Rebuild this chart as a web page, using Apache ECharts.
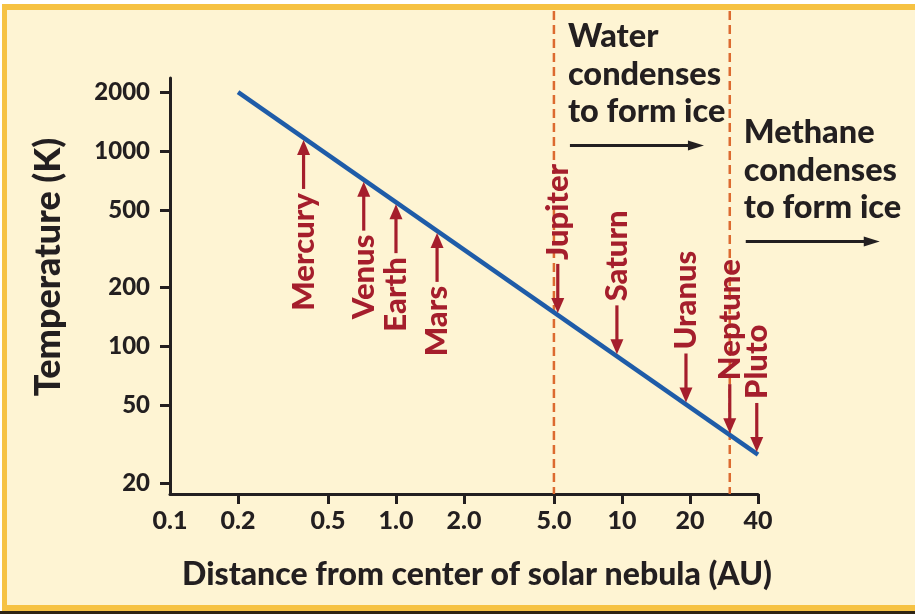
<!DOCTYPE html>
<html><head><meta charset="utf-8">
<script src="https://cdn.jsdelivr.net/npm/echarts@6/dist/echarts.min.js"></script>
<style>
html,body{margin:0;padding:0;background:#fff;}
#frame{position:absolute;left:2px;top:4px;width:913px;height:607px;box-sizing:border-box;background:#fef4d3;border-top:6px solid #f6c243;border-left:5px solid #f6c243;border-bottom:6px solid #f6c243;}
#shade{position:absolute;left:0;top:611px;width:915px;height:3px;background:#2e2414;}
#chart{position:absolute;left:0;top:0;width:915px;height:614px;}
</style></head><body>
<div id="frame"></div><div id="shade"></div><div id="chart"></div>
<script>
// ---- data ----
const xTickValues = [0.1, 0.2, 0.5, 1, 2, 5, 10, 20, 40];
const xTickLabels = ['0.1', '0.2', '0.5', '1.0', '2.0', '5.0', '10', '20', '40'];
const yTickValues = [20, 50, 100, 200, 500, 1000, 2000];
const yTickLabels = ['20', '50', '100', '200', '500', '1000', '2000'];
const lineAU = [0.2, 40];
const lineTemp = [2000, 28];
const planetNames = ['Mercury', 'Venus', 'Earth', 'Mars', 'Jupiter', 'Saturn', 'Uranus', 'Neptune', 'Pluto'];
const planetAU = [0.39, 0.72, 1.0, 1.52, 5.2, 9.5, 19.2, 30, 39.5];
const planetTemp = [1165, 713, 547, 390, 145, 89, 50.5, 35.2, 28.2];
const zoneAU = [5, 30];
const zoneText = ['Water\ncondenses\nto form ice', 'Methane\ncondenses\nto form ice'];

// ---- style ----
const FONT = 'Lato, "Open Sans", sans-serif';
const DARK = '#231f20';
const RED = '#a51e2c';
const BLUE = '#1f5ca8';
const DASH = '#dc6a30';

function pickLabel(v, vals, labels) {
  for (let i = 0; i < vals.length; i++) {
    if (Math.abs(Math.log10(v) - Math.log10(vals[i])) < 1e-6) return labels[i];
  }
  return '';
}

function renderPlanet(params, api) {
  const i = params.dataIndex;
  const au = api.value(0);
  const p = api.coord([au, api.value(1)]);
  const below = au < 3;
  const dir = below ? 1 : -1;
  const x = p[0];
  const tipY = p[1] + dir * 2;
  const tailY = p[1] + dir * 51;
  const headLen = 15, headW = 6.5;
  return {
    type: 'group',
    children: [
      { type: 'line', shape: { x1: x, y1: tailY, x2: x, y2: tipY + dir * headLen * 0.7 },
        style: { stroke: RED, lineWidth: 3.2 } },
      { type: 'polygon', shape: { points: [[x, tipY], [x - headW, tipY + dir * headLen], [x + headW, tipY + dir * headLen]] },
        style: { fill: RED } },
      { type: 'text', x: x, y: tailY + dir * 4, rotation: Math.PI / 2,
        style: { text: planetNames[i], font: '900 31px ' + FONT, fill: RED,
                 align: below ? 'right' : 'left', verticalAlign: 'middle' } }
    ]
  };
}

const zoneTextTop = [18, 114];
function renderZone(params, api) {
  const i = params.dataIndex;
  const cs = params.coordSys;
  const x = api.coord([api.value(0), 100])[0];
  const bottom = cs.y + cs.height;
  const tTop = zoneTextTop[i];
  const lh = 37.5;
  const ay = tTop + 3 * lh + 15;
  const ax1 = x + 16, ax2 = x + 150;
  return {
    type: 'group',
    children: [
      { type: 'line', shape: { x1: x, y1: 11, x2: x, y2: bottom },
        style: { stroke: DASH, lineWidth: 2.5, lineDash: [9, 5] } },
      { type: 'text', x: x + 14, y: tTop,
        style: { text: zoneText[i], font: '900 32.5px ' + FONT, fill: DARK, lineHeight: lh,
                 align: 'left', verticalAlign: 'top' } },
      { type: 'line', shape: { x1: ax1, y1: ay, x2: ax2 - 10, y2: ay },
        style: { stroke: DARK, lineWidth: 3 } },
      { type: 'polygon', shape: { points: [[ax2, ay], [ax2 - 16, ay - 5], [ax2 - 16, ay + 5]] },
        style: { fill: DARK } }
    ]
  };
}

const chart = echarts.init(document.getElementById('chart'));
chart.setOption({
  backgroundColor: 'transparent',
  animation: false,
  grid: { left: 170, right: 157, top: 78, bottom: 120, containLabel: false },
  xAxis: {
    type: 'log', min: 0.1, max: 40,
    name: 'Distance from center of solar nebula (AU)', nameLocation: 'middle', nameGap: 65,
    nameTextStyle: { fontFamily: FONT, fontWeight: 900, fontSize: 32, color: DARK, padding: [0, 0, 0, 26] },
    axisLine: { lineStyle: { color: DARK, width: 3 } },
    axisTick: { customValues: xTickValues.slice(1), length: 10, lineStyle: { color: DARK, width: 3 } },
    axisLabel: { customValues: xTickValues, margin: 14, fontFamily: FONT, fontWeight: 900, fontSize: 25, color: DARK,
                 formatter: v => pickLabel(v, xTickValues, xTickLabels) },
    splitLine: { show: false }, minorTick: { show: false }
  },
  yAxis: {
    type: 'log', min: 17.6, max: 2360,
    name: 'Temperature (K)', nameLocation: 'middle', nameGap: 104, nameRotate: 90,
    nameTextStyle: { fontFamily: FONT, fontWeight: 900, fontSize: 36, color: DARK, padding: [0, 0, 0, 38] },
    axisLine: { lineStyle: { color: DARK, width: 3 } },
    axisTick: { customValues: yTickValues, length: 10, lineStyle: { color: DARK, width: 3 } },
    axisLabel: { customValues: yTickValues, margin: 20, fontFamily: FONT, fontWeight: 900, fontSize: 24, color: DARK,
                 formatter: v => pickLabel(v, yTickValues, yTickLabels) },
    splitLine: { show: false }, minorTick: { show: false }
  },
  series: [
    { type: 'custom', name: 'zones', renderItem: renderZone, clip: false, z: 1,
      data: zoneAU.map(a => [a, 100]) },
    { type: 'line', name: 'temperature', data: lineAU.map((a, i) => [a, lineTemp[i]]),
      symbol: 'none', lineStyle: { color: BLUE, width: 4.5 }, z: 3 },
    { type: 'custom', name: 'planets', renderItem: renderPlanet, clip: false, z: 4,
      data: planetAU.map((a, i) => [a, planetTemp[i]]) }
  ]
});
</script>
</body></html>
